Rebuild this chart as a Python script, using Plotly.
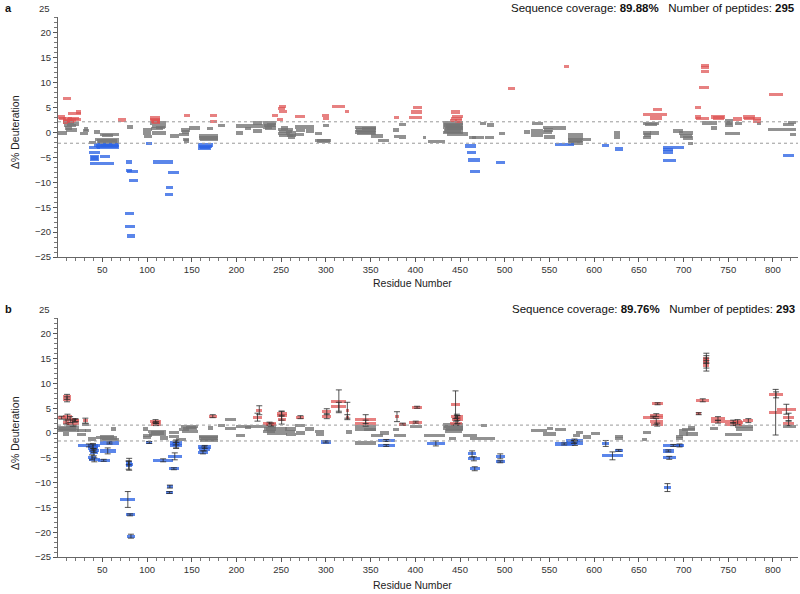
import plotly.graph_objects as go

# ---------------- data: (start residue, end residue, delta % deuteration) ----------------
a_red = [
    (6, 15, 7.0), (0, 8, 3.2), (2, 9, 2.9), (6, 16, 2.8), (6, 14, 2.5), (8, 18, 2.3),
    (10, 20, 2.6), (12, 24, 2.9), (14, 26, 2.7), (6, 12, 2.2), (12, 26, 3.9), (20, 26, 4.2),
    (68, 76, 2.6), (103, 115, 3.0), (103, 115, 2.7), (104, 114, 2.4), (105, 115, 2.2),
    (141, 148, 3.5), (170, 178, 3.5), (170, 178, 2.3), (240, 246, 3.5),
    (247, 255, 5.4), (246, 254, 4.9), (247, 256, 4.3), (245, 252, 2.7), (266, 277, 3.3),
    (296, 304, 3.5), (297, 304, 2.9), (307, 321, 5.3), (321, 326, 4.3), (376, 382, 3.1),
    (393, 408, 3.1), (395, 408, 4.2), (397, 408, 5.1),
    (440, 450, 4.2), (441, 453, 3.3), (440, 452, 2.9), (439, 447, 2.5), (444, 452, 2.4),
    (504, 511, 8.9), (566, 572, 13.4), (655, 681, 3.7), (666, 676, 4.7), (662, 676, 3.0),
    (713, 720, 3.2), (714, 729, 2.9), (713, 720, 5.1), (717, 729, 9.1),
    (720, 729, 13.6), (720, 729, 13.2), (720, 729, 12.4),
    (731, 746, 3.2), (733, 745, 3.0), (755, 765, 2.8), (767, 780, 3.2), (768, 779, 2.9),
    (778, 787, 2.9), (778, 787, 2.4), (796, 811, 7.7),
]
a_gray = [
    (0, 11, 0.0), (6, 18, 2.1), (7, 20, 1.5), (8, 16, 1.0), (9, 22, 0.6), (10, 24, 1.8),
    (25, 34, -0.1), (28, 35, 0.5), (29, 34, 0.8), (35, 43, -1.9), (41, 47, 0.2),
    (42, 69, -1.3), (44, 66, -1.6), (45, 69, -1.9), (47, 69, -0.3), (50, 62, -0.5),
    (78, 84, 1.2), (95, 106, 0.7), (96, 104, 0.0), (97, 106, -0.7),
    (103, 121, 2.0), (105, 121, 1.3), (104, 118, 0.9), (106, 121, 0.0), (110, 120, 1.1),
    (126, 136, -0.6), (136, 147, -0.3), (138, 148, 0.6), (139, 147, 0.2),
    (140, 147, -1.3), (141, 147, -1.6), (147, 159, 1.0),
    (158, 179, -0.6), (158, 179, -1.0), (159, 179, -1.3), (167, 174, 0.9), (179, 187, 1.5),
    (200, 213, 1.4), (210, 216, 0.9), (200, 207, 0.0), (213, 230, 1.4), (218, 228, 2.0),
    (218, 229, 0.4), (230, 244, 2.0), (231, 243, 1.5), (232, 244, 1.0), (234, 244, 1.6),
    (230, 240, 1.2),
    (246, 263, 0.7), (247, 262, 0.3), (246, 260, -0.1), (248, 263, -0.5), (250, 258, 1.0),
    (255, 267, 0.0), (256, 267, -0.5), (258, 266, -0.8),
    (266, 277, 1.2), (267, 277, 0.5), (266, 276, -0.3), (277, 287, 1.2), (278, 287, 0.4),
    (288, 296, -0.1), (288, 306, -1.5), (290, 305, -1.6), (297, 303, 1.5),
    (333, 356, 1.1), (334, 356, 0.6), (333, 355, 0.2), (335, 356, 0.0), (340, 356, 0.9),
    (351, 364, -0.6), (358, 371, -1.5), (375, 382, 0.6), (376, 382, -0.7),
    (382, 390, 1.7), (382, 390, -0.8), (409, 412, -0.9), (414, 433, -1.7),
    (431, 453, 2.0), (432, 453, 1.6), (431, 452, 1.2), (433, 453, 0.8), (432, 451, 0.4),
    (431, 453, 0.1), (434, 450, 1.4), (436, 453, 1.0), (435, 459, -0.2),
    (460, 468, -0.9), (463, 477, -0.9), (472, 479, 1.9), (480, 488, 1.6), (478, 488, -0.9),
    (494, 500, -0.1), (522, 528, 0.2), (531, 543, 1.9), (529, 543, 0.4), (529, 543, -0.4),
    (543, 554, 1.1), (544, 554, 0.6), (543, 553, 0.2), (544, 556, -0.8), (554, 568, 1.0),
    (571, 587, -0.3), (571, 587, -1.0), (571, 587, -1.4), (572, 586, -1.7), (571, 587, -2.0),
    (587, 596, -1.3), (622, 629, 0.0), (622, 629, -0.8),
    (655, 672, 1.9), (657, 670, 1.7), (655, 664, 0.0), (655, 664, -0.9), (663, 672, 0.0),
    (656, 664, -0.4), (688, 699, 0.4), (695, 711, 0.0), (696, 710, -0.6), (699, 711, -1.0),
    (705, 711, -2.1), (721, 737, 2.0), (731, 737, 1.0), (746, 755, 2.4), (746, 755, 1.6),
    (747, 754, 2.0), (746, 763, -0.1), (758, 765, 1.9), (782, 787, 1.9),
    (795, 826, 0.7), (811, 824, 1.7), (817, 826, 2.1), (819, 826, -0.3),
]
a_blue = [
    (35, 47, -2.9), (35, 47, -3.9), (36, 46, -4.7), (36, 46, -5.3), (37, 45, -5.0),
    (47, 58, -4.7), (36, 63, -6.1), (41, 69, -2.4), (43, 67, -2.6), (44, 69, -2.8),
    (48, 62, -2.5), (76, 83, -5.8), (76, 83, -7.5), (78, 90, -7.7), (80, 90, -9.5),
    (75, 85, -16.1), (75, 86, -18.7), (78, 86, -20.7), (99, 106, -2.1),
    (107, 129, -5.8), (121, 129, -10.9), (120, 129, -12.3), (123, 136, -7.9),
    (157, 174, -2.4), (158, 173, -2.7), (157, 172, -3.1), (159, 170, -2.9),
    (456, 468, -2.6), (458, 468, -3.9), (459, 472, -5.4), (461, 472, -7.7), (490, 500, -5.9),
    (556, 577, -2.3), (609, 617, -2.5), (623, 632, -3.2),
    (677, 700, -2.9), (677, 688, -3.3), (677, 688, -3.8), (677, 691, -5.5), (811, 824, -4.5),
]

# panel b: (start, end, delta % deuteration, error)
b_red = [
    (6, 15, 7.3, 0.5), (6, 15, 6.8, 0.5), (0, 9, 3.1, 0.3), (6, 16, 3.3, 0.5),
    (8, 20, 2.7, 0.6), (10, 24, 2.0, 0.6), (14, 24, 2.5, 0.3), (6, 13, 2.2, 0.4),
    (16, 24, 2.6, 0.3), (28, 34, 2.5, 0.5), (103, 116, 2.4, 0.3), (104, 116, 1.7, 0.2),
    (106, 114, 2.1, 0.2), (169, 178, 3.4, 0.3), (218, 229, 3.2, 0.8), (222, 229, 4.6, 0.9),
    (230, 244, 1.9, 0.3), (233, 244, 1.7, 0.3), (245, 256, 3.9, 0.5), (245, 256, 3.5, 0.9),
    (246, 255, 2.7, 0.9), (267, 276, 3.2, 0.3), (296, 306, 4.3, 0.6), (296, 306, 3.4, 0.5),
    (306, 323, 6.4, 2.3), (306, 323, 5.3, 0.9), (322, 326, 4.6, 1.6), (322, 326, 3.2, 0.5),
    (333, 356, 2.8, 0.9), (333, 356, 2.0, 0.6), (377, 382, 3.3, 1.0), (382, 390, 1.8, 0.2),
    (393, 408, 2.2, 0.2), (396, 408, 5.2, 0.2), (440, 450, 5.7, 2.8), (440, 453, 3.4, 0.4),
    (441, 453, 2.7, 0.8), (439, 452, 2.0, 0.4), (443, 451, 3.0, 0.5),
    (655, 677, 3.2, 0.2), (665, 677, 5.9, 0.2), (662, 677, 3.6, 0.3), (662, 677, 2.3, 0.6),
    (664, 677, 1.7, 0.3), (714, 729, 6.6, 0.3), (714, 720, 3.9, 0.2),
    (722, 729, 15.1, 0.5), (722, 729, 14.6, 0.5), (722, 729, 14.3, 1.8), (722, 729, 13.6, 0.5),
    (731, 746, 2.9, 0.4), (731, 746, 2.3, 0.3), (746, 765, 2.3, 0.3), (746, 765, 1.8, 0.3),
    (755, 766, 2.2, 0.5), (767, 778, 2.5, 0.4), (796, 811, 7.7, 0.6), (796, 810, 4.2, 4.6),
    (804, 826, 4.8, 1.0), (811, 824, 3.2, 0.8), (811, 824, 2.0, 0.5),
]
b_gray = [
    (0, 24, 1.0), (0, 24, 0.5), (2, 20, 0.8), (6, 13, -0.2), (9, 22, 1.5), (22, 32, 0.5),
    (22, 32, -0.3), (27, 35, 1.7), (31, 37, 0.5), (34, 43, -1.2), (43, 50, -0.9),
    (47, 63, -0.7), (47, 69, -1.3), (50, 66, -1.0), (60, 65, 0.8),
    (95, 101, 0.8), (96, 106, -0.5), (96, 104, -0.9), (101, 121, 0.3), (102, 121, -0.3),
    (104, 119, 0.0), (114, 123, -1.0), (125, 136, 0.1), (125, 136, -0.7), (132, 144, -1.3),
    (136, 147, 0.7), (138, 157, 1.3), (140, 156, 0.9), (139, 157, 0.3), (143, 155, 1.1),
    (158, 179, -0.7), (158, 179, -1.0), (159, 179, -1.5), (160, 178, -1.2), (168, 174, 1.0),
    (179, 187, 1.5), (187, 200, 2.7), (187, 200, 0.9), (200, 209, -0.5), (200, 213, 1.3),
    (210, 216, 1.1), (213, 230, 1.3), (230, 244, 1.3), (231, 244, 0.8), (230, 243, 0.3),
    (233, 256, 0.8), (234, 256, 0.0), (254, 267, 0.8), (255, 267, -0.3), (256, 266, 0.3),
    (266, 277, 1.5), (267, 277, 0.0), (277, 287, 0.8), (288, 298, 0.3), (289, 298, -0.3),
    (323, 329, 0.2), (333, 356, 1.3), (333, 356, 0.7), (333, 356, -2.0), (343, 356, 0.7),
    (351, 364, -0.5), (360, 371, 0.0), (375, 382, 0.7), (376, 382, -0.5),
    (382, 390, -0.5), (394, 408, 1.3), (410, 433, -0.5), (431, 453, 1.7), (432, 453, 1.3),
    (431, 453, 1.0), (433, 452, 0.4), (434, 453, 0.7), (438, 446, -1.1), (453, 469, -0.5),
    (461, 489, -1.1), (473, 480, 1.5), (529, 547, 0.5), (547, 554, 0.9), (543, 557, -0.2),
    (556, 568, 0.7), (580, 587, 0.1), (576, 584, -0.5), (587, 596, -0.8), (597, 606, -0.1),
    (623, 632, -0.7), (623, 632, -1.1), (655, 664, 0.1), (654, 659, -1.3),
    (691, 699, -0.7), (691, 699, -1.1), (695, 705, 0.5), (695, 705, -0.2), (698, 713, 0.7),
    (703, 716, -0.2), (705, 713, 1.0), (730, 738, 0.9), (746, 765, -0.3), (757, 778, 1.3),
    (759, 778, 0.8), (811, 826, 1.3),
]
b_blue = [
    (23, 47, -2.5, 0.3), (34, 45, -2.6, 0.5), (34, 45, -3.0, 0.6), (35, 46, -3.5, 0.4),
    (36, 45, -4.0, 0.6), (34, 43, -4.9, 0.5), (35, 47, -5.4, 0.4), (45, 58, -5.5, 0.2),
    (47, 65, -3.6, 0.6), (47, 69, -2.0, 0.2), (76, 83, -6.0, 0.4), (76, 83, -6.5, 0.8),
    (76, 84, -6.3, 1.2), (70, 87, -13.4, 1.6), (76, 86, -16.5, 0.2), (78, 86, -20.8, 0.4),
    (99, 106, -1.9, 0.2), (107, 129, -5.5, 0.3), (122, 129, -10.8, 0.3), (121, 129, -12.0, 0.2),
    (123, 139, -4.7, 0.7), (124, 136, -7.2, 0.2), (126, 139, -2.0, 0.4), (126, 139, -2.5, 0.6),
    (128, 137, -2.2, 0.8), (157, 172, -2.8, 0.3), (158, 170, -3.2, 0.4), (157, 168, -3.9, 0.3),
    (294, 306, -1.8, 0.2), (358, 377, -1.5, 0.2), (358, 377, -2.5, 0.2), (413, 433, -2.1, 0.5),
    (459, 468, -4.2, 0.6), (459, 472, -5.2, 0.4), (461, 472, -7.2, 0.4), (490, 500, -4.7, 0.5),
    (490, 500, -5.8, 0.2), (556, 577, -2.2, 0.2), (569, 587, -1.5, 0.3), (570, 587, -2.0, 0.5),
    (573, 582, -1.8, 0.3), (609, 617, -2.1, 0.6), (609, 632, -4.6, 0.8), (623, 632, -3.5, 0.2),
    (677, 700, -2.5, 0.2), (677, 689, -3.6, 0.2), (677, 691, -5.0, 0.3), (678, 686, -11.0, 0.8),
    (692, 699, -2.5, 0.3),
]

x_ticks = list(range(50, 801, 50))
y_ticks = [-25, -20, -15, -10, -5, 0, 5, 10, 15, 20]
threshold_a = 2.15
threshold_b = 1.6
info_a = ("89.88%", "295")
info_b = ("89.76%", "293")

RED = "rgba(222,80,80,0.72)"
BLUE = "rgba(45,100,228,0.78)"
GRAY = "rgba(115,115,115,0.78)"
FONT = "Liberation Sans"
TICKSZ = 9.5

fig = go.Figure()


def add_bars(peps, color, xa, ya):
    fig.add_trace(go.Bar(
        orientation="h",
        base=[p[0] for p in peps],
        x=[p[1] - p[0] for p in peps],
        y=[p[2] for p in peps],
        width=0.65,
        marker=dict(color=color, line=dict(width=0)),
        xaxis=xa, yaxis=ya, showlegend=False, hoverinfo="skip",
    ))


def add_err(peps, xa, ya):
    fig.add_trace(go.Scatter(
        x=[(p[0] + p[1]) / 2 for p in peps],
        y=[p[2] for p in peps],
        mode="markers",
        marker=dict(size=1, color="rgba(0,0,0,0)"),
        error_y=dict(type="data", array=[p[3] for p in peps], color="rgba(40,40,40,0.8)",
                     thickness=1, width=3),
        xaxis=xa, yaxis=ya, showlegend=False, hoverinfo="skip",
    ))


add_bars(a_gray, GRAY, "x", "y")
add_bars(a_red, RED, "x", "y")
add_bars(a_blue, BLUE, "x", "y")
add_bars(b_gray, GRAY, "x2", "y2")
add_bars(b_red, RED, "x2", "y2")
add_bars(b_blue, BLUE, "x2", "y2")
add_err(b_red, "x2", "y2")
add_err(b_blue, "x2", "y2")

W, H = 800, 594
ML, MR, MT, MB = 58, 2, 8, 37
PH = H - MT - MB
PW = W - ML - MR


def frac(py):
    return (H - MB - py) / PH


def xfrac(px):
    return (px - ML) / PW


xcommon = dict(
    range=[0.4, 828], tickmode="array", tickvals=x_ticks, ticks="outside", ticklen=4,
    tickcolor="#555", showline=True, linecolor="#666", linewidth=1, showgrid=False,
    zeroline=False, tickfont=dict(family=FONT, size=TICKSZ, color="#333"),
    minor=dict(tickmode="linear", tick0=0, dtick=10, ticks="outside", ticklen=3,
               tickcolor="#777", showgrid=False),
)
ycommon = dict(
    tickmode="array", tickvals=y_ticks, ticks="outside", ticklen=4, tickcolor="#555",
    showline=True, linecolor="#666", linewidth=1, showgrid=False, zeroline=False,
    tickfont=dict(family=FONT, size=TICKSZ, color="#333"),
    minor=dict(tickmode="linear", tick0=0, dtick=1, ticks="outside", ticklen=3,
               tickcolor="#777", showgrid=False),
)

fig.update_layout(
    width=W, height=H, margin=dict(l=ML, r=MR, t=MT, b=MB),
    paper_bgcolor="white", plot_bgcolor="white", barmode="overlay", bargap=0,
    font=dict(family=FONT, color="#222"),
    xaxis=dict(domain=[0, 1], anchor="y", **xcommon),
    yaxis=dict(domain=[frac(257), frac(16.5)], anchor="x", range=[-25, 23.3], **ycommon),
    xaxis2=dict(domain=[0, 1], anchor="y2", **xcommon),
    yaxis2=dict(domain=[frac(557), frac(318)], anchor="x2", range=[-25, 23.2], **ycommon),
)

shapes = []
for thr, xr, yr in [(threshold_a, "x", "y"), (threshold_b, "x2", "y2")]:
    for s in (1, -1):
        shapes.append(dict(type="line", xref=xr + " domain", yref=yr, x0=0, x1=1,
                           y0=s * thr, y1=s * thr,
                           line=dict(color="#999", width=1, dash="dot")))
fig.update_layout(shapes=shapes)

ann = []
for info, lab, px25, ypx_title, ypx_label, ypx_mid in [
    (info_a, "a", 8, 283, 8, 132), (info_b, "b", 309, 585, 309, 433)
]:
    ann.append(dict(xref="paper", yref="paper", x=0, y=frac(px25), text="25", showarrow=False,
                    xanchor="right", yanchor="middle", xshift=-6,
                    font=dict(family=FONT, size=TICKSZ, color="#333")))
    ann.append(dict(xref="paper", yref="paper", x=1, y=frac(ypx_label), showarrow=False,
                    xanchor="right", yanchor="middle", xshift=-1,
                    text=f"Sequence coverage: <b>{info[0]}</b>&nbsp;&nbsp;&nbsp;Number of peptides: <b>{info[1]}</b>",
                    font=dict(family=FONT, size=11.5, color="#111")))
    ann.append(dict(xref="paper", yref="paper", x=xfrac(3), y=frac(ypx_label),
                    showarrow=False, xanchor="left", yanchor="middle",
                    text=f"<b>{lab}</b>", font=dict(family=FONT, size=11, color="#111")))
    ann.append(dict(xref="paper", yref="paper", x=xfrac(412), y=frac(ypx_title),
                    showarrow=False, xanchor="center", yanchor="middle",
                    text="Residue Number", font=dict(family=FONT, size=10.5, color="#222")))
    ann.append(dict(xref="paper", yref="paper", x=xfrac(15), y=frac(ypx_mid),
                    showarrow=False, xanchor="center", yanchor="middle", textangle=-90,
                    text="Δ% Deuteration", font=dict(family=FONT, size=10.5, color="#222")))
fig.update_layout(annotations=ann)

fig.write_html("out.html", config={"displayModeBar": False},
               post_script="document.body.style.margin='0';")
